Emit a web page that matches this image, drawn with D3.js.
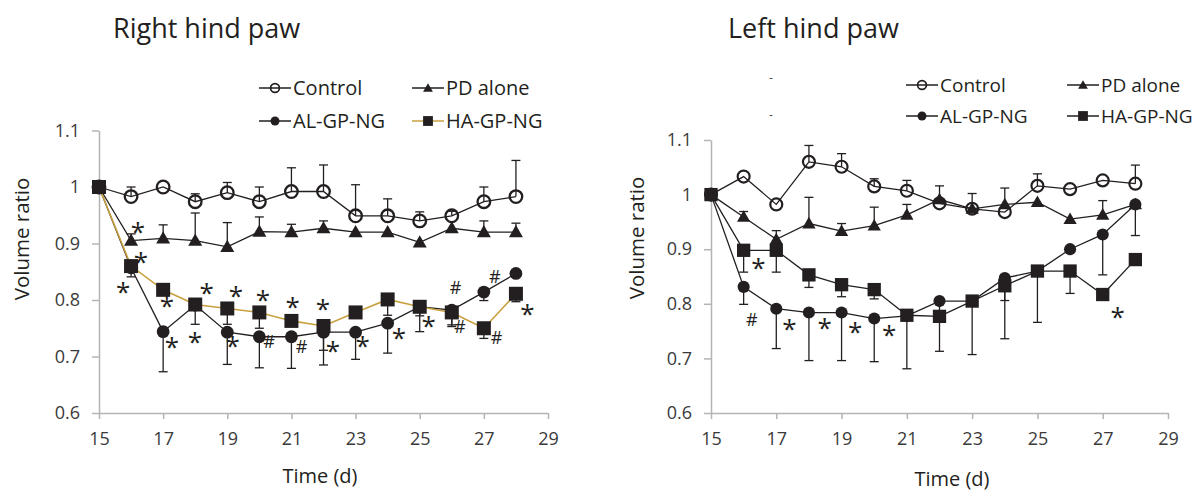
<!DOCTYPE html>
<html>
<head>
<meta charset="utf-8">
<title>Paw volume ratio</title>
<script src="https://d3js.org/d3.v7.min.js"></script>
<style>
  body { margin: 0; background: #fff; }
  text { font-family: "Open Sans", "Liberation Sans", sans-serif; }
</style>
</head>
<body>
<div id="chart"></div>
<script>
// days measured
var days = [15, 16, 17, 18, 19, 20, 21, 22, 23, 24, 25, 26, 27, 28];
var xTicks = [15, 17, 19, 21, 23, 25, 27, 29];
var yTicks = [0.6, 0.7, 0.8, 0.9, 1.0, 1.1];
var yTickLabels = ["0.6", "0.7", "0.8", "0.9", "1", "1.1"];
var seriesNames = ["Control", "PD alone", "AL-GP-NG", "HA-GP-NG"];

// Right hind paw (error bar end values: upper for control/PD, lower for AL/HA)
var rhControl    = [1.0, 0.983, 1.0, 0.974, 0.99, 0.974, 0.992, 0.992, 0.949, 0.949, 0.94, 0.949, 0.974, 0.983];
var rhControlBar = [null, 1.0, null, 0.988, 1.008, 1.0, 1.034, 1.039, 1.004, 0.979, 0.956, 0.957, 1.0, 1.047];
var rhPD         = [1.0, 0.905, 0.909, 0.905, 0.894, 0.921, 0.92, 0.927, 0.92, 0.92, 0.902, 0.927, 0.92, 0.92];
var rhPDBar      = [null, 0.917, 0.933, 0.954, 0.937, 0.947, 0.934, 0.94, null, null, null, null, 0.94, 0.936];
var rhAL         = [1.0, 0.857, 0.744, 0.791, 0.743, 0.735, 0.735, 0.743, 0.743, 0.759, 0.788, 0.782, 0.814, 0.847];
var rhALBar      = [null, 0.841, 0.673, 0.757, 0.686, 0.68, 0.679, 0.685, 0.695, 0.706, 0.744, 0.756, 0.799, null];
var rhHA         = [1.0, 0.86, 0.818, 0.792, 0.785, 0.778, 0.763, 0.754, 0.778, 0.801, 0.788, 0.778, 0.75, 0.811];
var rhHABar      = [null, null, null, null, 0.757, 0.75, null, 0.711, null, 0.773, 0.772, 0.753, 0.732, 0.797];
var rhMarks = [
  [16.21, 0.927, "*"], [16.31, 0.874, "*"], [15.75, 0.821, "*"], [17.12, 0.796, "*"],
  [17.27, 0.724, "*"], [17.99, 0.733, "*"], [18.36, 0.819, "*"], [19.17, 0.726, "*"],
  [19.27, 0.814, "*"], [20.11, 0.807, "*"], [20.3, 0.726, "#"], [21.04, 0.795, "*"],
  [21.32, 0.717, "#"], [21.98, 0.791, "*"], [22.29, 0.717, "*"], [23.22, 0.726, "*"],
  [24.35, 0.74, "*"], [25.28, 0.761, "*"], [26.12, 0.821, "#"], [26.25, 0.752, "#"],
  [27.34, 0.842, "#"], [27.4, 0.733, "#"], [28.36, 0.782, "*"]
];

// Left hind paw
var lhControl    = [1.0, 1.033, 0.982, 1.06, 1.051, 1.015, 1.007, 0.984, 0.974, 0.968, 1.016, 1.01, 1.026, 1.02];
var lhControlBar = [null, null, null, 1.09, 1.075, 1.029, 1.026, null, null, null, 1.038, null, null, 1.054];
var lhPD         = [1.0, 0.959, 0.918, 0.947, 0.933, 0.943, 0.963, 0.991, 0.974, 0.982, 0.986, 0.955, 0.963, 0.982];
var lhPDBar      = [null, 0.969, 0.934, 0.995, 0.947, 0.977, 0.982, 1.016, 1.002, 1.012, null, null, 0.989, null];
var lhAL         = [1.0, 0.831, 0.791, 0.784, 0.784, 0.773, 0.778, 0.805, 0.805, 0.847, 0.86, 0.9, 0.927, 0.982];
var lhALBar      = [null, 0.799, 0.718, 0.696, 0.696, 0.694, null, 0.713, 0.707, 0.736, 0.766, null, 0.853, 0.925];
var lhHA         = [1.0, 0.898, 0.898, 0.853, 0.835, 0.826, 0.779, 0.777, 0.805, 0.833, 0.86, 0.86, 0.817, 0.881];
var lhHABar      = [null, 0.858, 0.858, 0.83, 0.813, 0.809, 0.681, null, null, 0.806, null, 0.819, null, null];
var lhMarks = [
  [16.45, 0.872, "*"], [16.25, 0.771, "#"], [17.4, 0.762, "*"], [18.48, 0.763, "*"],
  [19.42, 0.755, "*"], [20.46, 0.751, "*"], [27.46, 0.783, "*"]
];

var W = 1197, H = 490;
var ink = "#231f20", gold = "#c9a040", axisGrey = "#b4b4b4";

var svg = d3.select("#chart").append("svg")
    .attr("width", W)
    .attr("height", H);

function drawPanel(p) {
  var x = d3.scaleLinear().domain([15, 29]).range([p.x0, p.x1]);
  var y = d3.scaleLinear().domain([0.6, 1.1]).range([p.y0, p.y1]);
  var g = svg.append("g");

  // axes
  var ya = g.append("g")
      .attr("transform", "translate(" + p.x0 + ",0)")
      .call(d3.axisLeft(y).tickValues(yTicks).tickSize(7).tickSizeOuter(0).tickPadding(12)
        .tickFormat(function(d, i) { return yTickLabels[i]; }));
  var xa = g.append("g")
      .attr("transform", "translate(0," + p.y0 + ")")
      .call(d3.axisBottom(x).tickValues(xTicks).tickSize(6).tickSizeOuter(0).tickPadding(13));
  [ya, xa].forEach(function(a) {
    a.selectAll("path, line").attr("stroke", axisGrey).attr("stroke-width", 1.5);
    a.selectAll("text").attr("fill", "#3a3a3a").style("font-size", "18px")
      .style("font-family", "'Open Sans', sans-serif");
  });

  // titles and labels
  g.append("text").attr("x", p.titleX).attr("y", 38).text(p.title)
    .style("font-size", "27px").attr("fill", "#231f20");
  g.append("text")
    .attr("transform", "translate(" + p.ylabX + "," + p.ylabY + ") rotate(-90)")
    .attr("text-anchor", "middle").attr("dy", "0.35em")
    .style("font-size", "20.5px").attr("fill", "#231f20").text("Volume ratio");
  g.append("text").attr("x", p.xlabX).attr("y", p.xlabY).attr("text-anchor", "middle")
    .style("font-size", "20px").attr("fill", "#231f20").text("Time (d)");

  var line = d3.line().x(function(d) { return x(d[0]); }).y(function(d) { return y(d[1]); });

  p.series.forEach(function(s) {
    var pts = days.map(function(d, i) { return [d, s.values[i], s.bars[i]]; });
    g.append("path").datum(pts).attr("d", line)
      .attr("fill", "none").attr("stroke", s.lineColor).attr("stroke-width", s.lineColor === gold ? 1.6 : 1.3);

    // error bars
    var eb = g.append("g").attr("stroke", ink).attr("stroke-width", 1.3);
    pts.filter(function(d) { return d[2] != null; }).forEach(function(d) {
      eb.append("line").attr("x1", x(d[0])).attr("x2", x(d[0]))
        .attr("y1", y(d[1])).attr("y2", y(d[2]));
      eb.append("line").attr("x1", x(d[0]) - 4.5).attr("x2", x(d[0]) + 4.5)
        .attr("y1", y(d[2])).attr("y2", y(d[2]));
    });

    // markers
    var m = g.append("g");
    pts.forEach(function(d) {
      drawMarker(m, s.shape, x(d[0]), y(d[1]), p.scale);
    });
  });

  // significance marks
  g.selectAll(".mark").data(p.marks).enter().append("text")
    .attr("x", function(d) { return x(d[0]); })
    .attr("y", function(d) { return y(d[1]) + (d[2] === "*" ? 13 : 6.3); })
    .attr("text-anchor", "middle")
    .style("font-size", function(d) { return d[2] === "*" ? "26px" : "18px"; })
    .attr("fill", ink)
    .text(function(d) { return d[2]; });

  // legend
  var lg = g.append("g");
  p.series.forEach(function(s, i) {
    var col = i % 2, row = Math.floor(i / 2);
    var cx = p.legX[col], cy = p.legY[row];
    lg.append("line").attr("x1", cx - 16).attr("x2", cx + 16).attr("y1", cy).attr("y2", cy)
      .attr("stroke", s.lineColor).attr("stroke-width", 1.5);
    drawMarker(lg, s.shape, cx, cy, 0.7);
    lg.append("text").attr("x", cx + 18).attr("y", cy).attr("dy", "0.36em")
      .style("font-size", p.legFont).attr("fill", "#231f20").text(seriesNames[i]);
  });
  (p.dashes || []).forEach(function(dy) {
    lg.append("text").attr("x", p.dashX).attr("y", dy).attr("text-anchor", "middle")
      .style("font-size", "11px").attr("fill", ink).text("-");
  });
}

function drawMarker(g, shape, cx, cy, k) {
  if (shape === "open") {
    g.append("circle").attr("cx", cx).attr("cy", cy).attr("r", 6.3 * k)
      .attr("fill", "none").attr("stroke", ink).attr("stroke-width", 2.3 * Math.max(k, 0.75));
  } else if (shape === "dot") {
    g.append("circle").attr("cx", cx).attr("cy", cy).attr("r", 6.4 * k).attr("fill", ink);
  } else if (shape === "square") {
    var s = 14 * k;
    g.append("rect").attr("x", cx - s / 2).attr("y", cy - s / 2).attr("width", s).attr("height", s).attr("fill", ink);
  } else {
    g.append("path").attr("transform", "translate(" + cx + "," + (cy + 1) + ")")
      .attr("d", d3.symbol().type(d3.symbolTriangle).size(85 * k * k)()).attr("fill", ink);
  }
}

drawPanel({
  x0: 99, x1: 548, y0: 413, y1: 130.5,
  title: "Right hind paw", titleX: 113,
  ylabX: 22, ylabY: 239, xlabX: 320, xlabY: 483,
  scale: 1,
  legX: [275, 428], legY: [88, 121], legFont: "20px",
  marks: rhMarks,
  series: [
    { values: rhControl, bars: rhControlBar, shape: "open", lineColor: ink },
    { values: rhPD, bars: rhPDBar, shape: "tri", lineColor: ink },
    { values: rhAL, bars: rhALBar, shape: "dot", lineColor: ink },
    { values: rhHA, bars: rhHABar, shape: "square", lineColor: gold }
  ]
});

drawPanel({
  x0: 711, x1: 1168, y0: 413, y1: 140,
  title: "Left hind paw", titleX: 728,
  ylabX: 637, ylabY: 238, xlabX: 952, xlabY: 486,
  scale: 0.95,
  legX: [922, 1083], legY: [85, 116], legFont: "19px",
  dashX: 771, dashes: [81, 118],
  marks: lhMarks,
  series: [
    { values: lhControl, bars: lhControlBar, shape: "open", lineColor: ink },
    { values: lhPD, bars: lhPDBar, shape: "tri", lineColor: ink },
    { values: lhAL, bars: lhALBar, shape: "dot", lineColor: ink },
    { values: lhHA, bars: lhHABar, shape: "square", lineColor: ink }
  ]
});
</script>
</body>
</html>
